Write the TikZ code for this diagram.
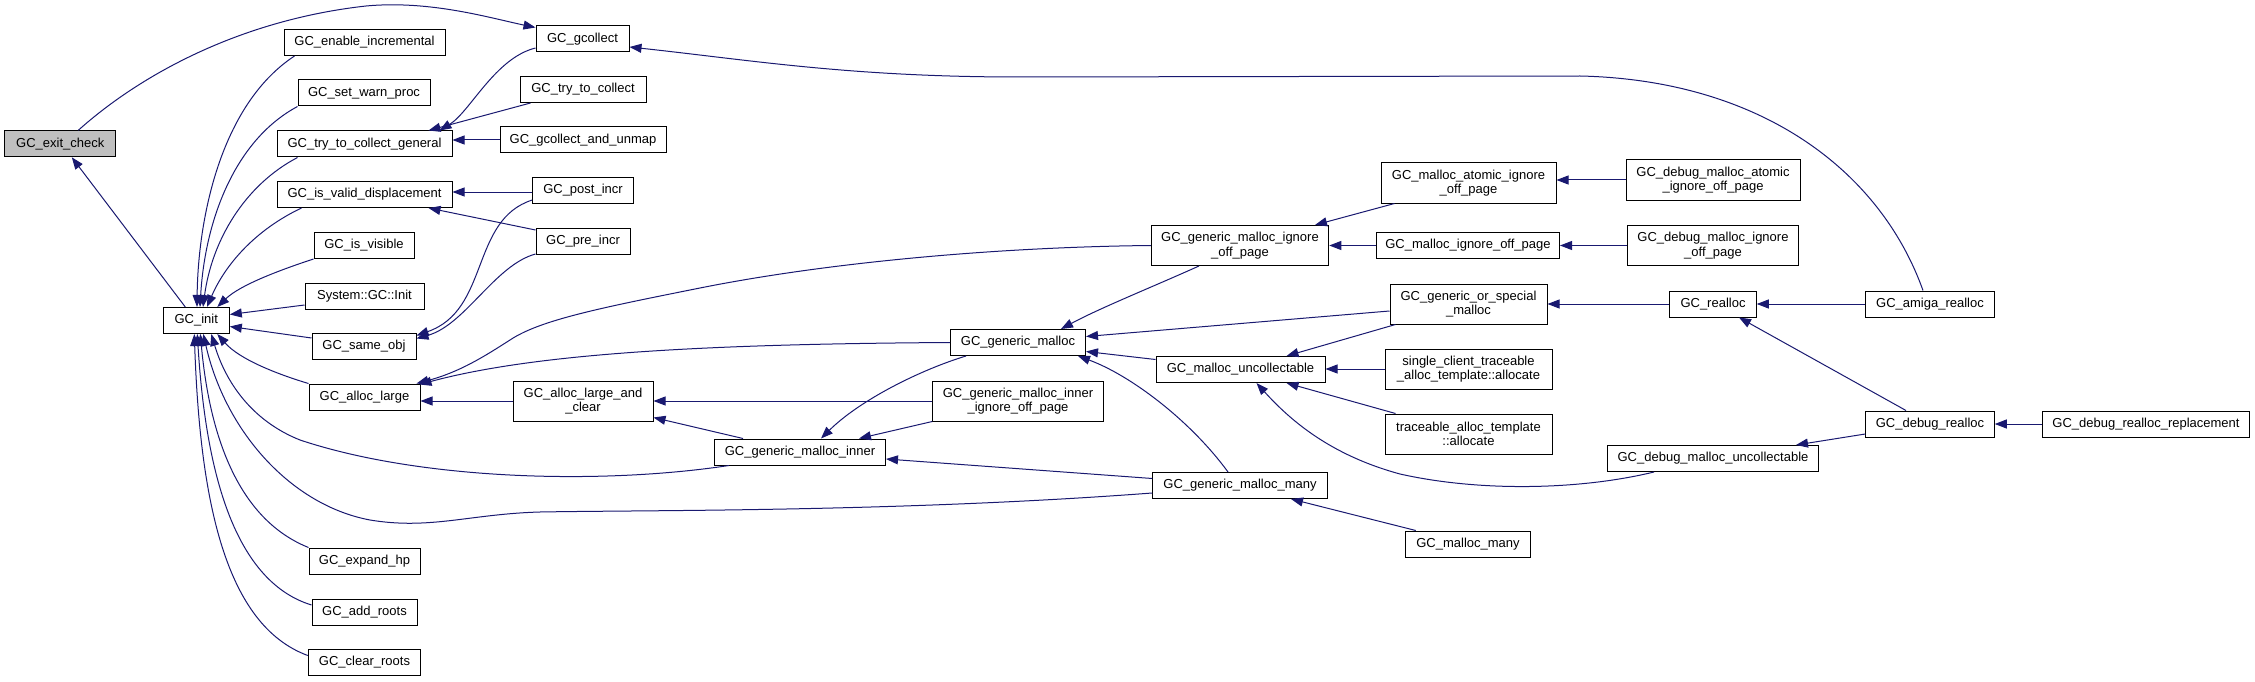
\documentclass[tikz,border=0pt]{standalone}
\usepackage{fontspec}
\setmainfont{Liberation Sans}
\usetikzlibrary{arrows.meta,calc}
\definecolor{edgec}{HTML}{191970}
\definecolor{greyfill}{HTML}{BFBFBF}
\begin{document}
\begin{tikzpicture}[x=1pt,y=-1pt,
  box/.style={draw=black, line width=1pt, fill=white, inner sep=0pt, align=center,
    minimum height=26pt, font=\fontsize{13}{14.5}\selectfont},
  tall/.style={minimum height=40pt},
  cg/.style={draw=edgec, line width=1pt, -{Triangle[length=12pt,width=9pt]}}]
\useasboundingbox (0,0) rectangle (2255,682);
% column 0
\node[box,fill=greyfill,minimum width=111pt] (exit) at (60.3,143.8) {GC\_exit\_check};
% column 1
\node[box,minimum width=66pt] (init) at (196.3,320.5) {GC\_init};
% column 2
\node[box,minimum width=161pt] (enable) at (364.5,42.5) {GC\_enable\_incremental};
\node[box,minimum width=132pt] (warn) at (364,93) {GC\_set\_warn\_proc};
\node[box,minimum width=175pt] (tcg) at (364.5,144) {GC\_try\_to\_collect\_general};
\node[box,minimum width=175pt] (ivd) at (364.5,194.5) {GC\_is\_valid\_displacement};
\node[box,minimum width=100pt] (vis) at (364,245.5) {GC\_is\_visible};
\node[box,minimum width=119pt] (sysinit) at (364.5,296) {System::GC::Init};
\node[box,minimum width=104pt] (same) at (364,346.5) {GC\_same\_obj};
\node[box,minimum width=111pt] (alarge) at (364.5,397) {GC\_alloc\_large};
\node[box,minimum width=111pt] (expand) at (364.5,561) {GC\_expand\_hp};
\node[box,minimum width=105pt] (addroots) at (364.5,612) {GC\_add\_roots};
\node[box,minimum width=112.5pt] (clearroots) at (364.5,662.5) {GC\_clear\_roots};
% column 3
\node[box,minimum width=93pt] (gcollect) at (582.5,39) {GC\_gcollect};
\node[box,minimum width=126pt] (ttc) at (583,89.5) {GC\_try\_to\_collect};
\node[box,minimum width=166pt] (gcu) at (583,140) {GC\_gcollect\_and\_unmap};
\node[box,minimum width=100.5pt] (post) at (583,190.5) {GC\_post\_incr};
\node[box,minimum width=94pt] (pre) at (583,241.5) {GC\_pre\_incr};
\node[box,tall,minimum width=140pt] (alc) at (583,401) {GC\_alloc\_large\_and\\\_clear};
% column 4
\node[box,minimum width=171pt] (gmi) at (800,452) {GC\_generic\_malloc\_inner};
% column 5
\node[box,minimum width=135pt] (gm) at (1018,342.5) {GC\_generic\_malloc};
\node[box,tall,minimum width=170.5pt] (gmiiop) at (1018,401) {GC\_generic\_malloc\_inner\\\_ignore\_off\_page};
% column 6
\node[box,tall,minimum width=177.5pt] (gmiop) at (1240,245.5) {GC\_generic\_malloc\_ignore\\\_off\_page};
\node[box,minimum width=169pt] (mu) at (1240.5,369.5) {GC\_malloc\_uncollectable};
\node[box,minimum width=174.5pt] (gmm) at (1240,485.5) {GC\_generic\_malloc\_many};
% column 7
\node[box,tall,minimum width=175pt] (maiop) at (1468.5,183) {GC\_malloc\_atomic\_ignore\\\_off\_page};
\node[box,minimum width=183pt] (miop) at (1468,245.5) {GC\_malloc\_ignore\_off\_page};
\node[box,tall,minimum width=157pt] (gosm) at (1468.5,304) {GC\_generic\_or\_special\\\_malloc};
\node[box,tall,minimum width=167pt] (sct) at (1468.5,369) {single\_client\_traceable\\\_alloc\_template::allocate};
\node[box,tall,minimum width=167pt] (tat) at (1468.5,434) {traceable\_alloc\_template\\::allocate};
\node[box,minimum width=125.5pt] (mm) at (1468,544) {GC\_malloc\_many};
% column 8
\node[box,tall,minimum width=174pt] (dmaiop) at (1713,180) {GC\_debug\_malloc\_atomic\\\_ignore\_off\_page};
\node[box,tall,minimum width=171pt] (dmiop) at (1713,245.5) {GC\_debug\_malloc\_ignore\\\_off\_page};
\node[box,minimum width=86.5pt] (realloc) at (1713,304) {GC\_realloc};
\node[box,minimum width=211pt] (dmu) at (1713,458.5) {GC\_debug\_malloc\_uncollectable};
% column 9
\node[box,minimum width=128.5pt] (amiga) at (1930,304) {GC\_amiga\_realloc};
\node[box,minimum width=128.5pt] (drealloc) at (1930,424) {GC\_debug\_realloc};
% column 10
\node[box,minimum width=207pt] (drr) at (2146,424) {GC\_debug\_realloc\_replacement};

% ---- edges ----
\draw[cg] ([xshift=-11pt]init.north) -- ([xshift=11.5pt]exit.south);
\draw[cg] ([xshift=18pt]exit.north) .. controls (140,75) and (240,20) .. (366,6)
  .. controls (430,0) and (490,18) .. ([yshift=-2pt]gcollect.north west);
\draw[cg] ([xshift=11pt]enable.south west) .. controls (220,105) and (198,220) .. ([xshift=0.7pt]init.north);
\draw[cg] (warn.south west) .. controls (235,140) and (205,220) .. ([xshift=3.7pt]init.north);
\draw[cg] ([xshift=21pt]tcg.south west) .. controls (245,185) and (212,240) .. ([xshift=6.7pt]init.north);
\draw[cg] ([xshift=25pt]ivd.south west) .. controls (255,230) and (225,265) .. ([xshift=10.7pt]init.north);
\draw[cg] (vis.south west) .. controls (280,270) and (240,285) .. ([xshift=21pt]init.north);
\draw[cg] ([yshift=-9pt]sysinit.west) -- ([yshift=6pt]init.east);
\draw[cg] ([yshift=8.5pt]same.west) -- ([yshift=-6pt]init.east);
\draw[cg] (alarge.north west) .. controls (280,375) and (240,360) .. ([xshift=21pt]init.south);
\draw[cg] ([xshift=15pt]gmi.south west) .. controls (600,485) and (420,480) .. (300,440)
  .. controls (250,420) and (225,380) .. ([xshift=15pt]init.south);
\draw[cg] ([yshift=-7.5pt]gmm.west) .. controls (900,512) and (650,510) .. (540,512)
  .. controls (470,514) and (430,530) .. (370,520)
  .. controls (290,505) and (225,430) .. ([xshift=7pt]init.south);
\draw[cg] (expand.north west) .. controls (240,520) and (210,440) .. ([xshift=4pt]init.south);
\draw[cg] ([yshift=7pt]addroots.west) .. controls (230,580) and (205,460) .. ([xshift=1pt]init.south);
\draw[cg] ([yshift=7pt]clearroots.west) .. controls (225,625) and (200,500) .. ([xshift=-2pt]init.south);

\draw[cg] ([yshift=-9pt]gcollect.west) .. controls (495,58) and (470,112) .. ([xshift=75pt]tcg.north);
\draw[cg] ([xshift=11pt]ttc.south west) -- ([xshift=64pt]tcg.north);
\draw[cg] (gcu.west) -- (gcu.west -| tcg.east);
\draw[cg] ([xshift=-7pt]amiga.north) .. controls (1880,170) and (1760,80) .. (1580,76)
  -- (1019,77) .. controls (850,77) and (750,60) .. ([yshift=-8pt]gcollect.east);
\draw[cg] ([yshift=-1.5pt]post.west) -- ([yshift=-1.5pt]post.west -| ivd.east);
\draw[cg] ([yshift=-2pt]pre.north west) -- ([xshift=64pt]ivd.south);
\draw[cg] ([yshift=4pt]post.south west) .. controls (470,220) and (490,310) .. ([yshift=11pt]same.east);
\draw[cg] ([yshift=1pt]pre.south west) .. controls (495,265) and (465,325) .. ([yshift=8pt]same.east);

\draw[cg] (gmiop.west) .. controls (1000,247) and (830,262) .. (700,288)
  .. controls (600,308) and (540,320) .. (510,340)
  .. controls (485,356) and (460,372) .. ([xshift=-4pt]alarge.north east);
\draw[cg] (gm.west) .. controls (720,344) and (540,352) .. ([xshift=-1pt,yshift=-1pt]alarge.north east);
\draw[cg] (alc.west) -- (alc.west -| alarge.east);
\draw[cg] (gmiiop.west) -- (gmiiop.west -| alc.east);
\draw[cg] ([xshift=29pt]gmi.north west) -- ([yshift=4pt]alc.south east);
\draw[cg] ([xshift=16pt]gm.south west) .. controls (920,370) and (860,400) .. ([xshift=21pt]gmi.north);
\draw[cg] (gmiiop.south west) -- ([xshift=59pt]gmi.north);
\draw[cg] ([yshift=7pt]gmm.west) -- ([yshift=-7pt]gmi.east);
\draw[cg] ([xshift=-12pt]gmm.north) .. controls (1190,420) and (1130,375) .. ([xshift=-8pt]gm.south east);
\draw[cg] ([xshift=-41pt]gmiop.south) .. controls (1150,288) and (1100,308) .. ([xshift=43pt]gm.north);
\draw[cg] ([yshift=-7pt]gosm.west) -- ([yshift=6pt]gm.east);
\draw[cg] ([yshift=10pt]mu.west) -- ([yshift=-9pt]gm.east);

\draw[cg] ([xshift=14pt]maiop.south west) -- ([xshift=75pt]gmiop.north);
\draw[cg] (miop.west) -- (miop.west -| gmiop.east);
\draw[cg] (dmaiop.west) -- (dmaiop.west -| maiop.east);
\draw[cg] (dmiop.west) -- (dmiop.west -| miop.east);
\draw[cg] (realloc.west) -- (realloc.west -| gosm.east);
\draw[cg] (amiga.west) -- (amiga.west -| realloc.east);
\draw[cg] ([xshift=-24pt]drealloc.north) -- ([xshift=26pt]realloc.south);
\draw[cg] (drr.west) -- (drr.west -| drealloc.east);
\draw[cg] ([yshift=-10pt]drealloc.west) -- ([xshift=-23pt]dmu.north east);
\draw[cg] ([xshift=6pt]gosm.south west) -- ([xshift=46pt]mu.north);
\draw[cg] (sct.west) -- (sct.west -| mu.east);
\draw[cg] ([xshift=11pt]tat.north west) -- ([xshift=46pt]mu.south);
\draw[cg] ([xshift=-59pt]dmu.south) .. controls (1580,490) and (1480,492) .. (1400,474)
  .. controls (1330,455) and (1290,420) .. ([xshift=16pt]mu.south);
\draw[cg] ([xshift=11pt]mm.north west) -- ([xshift=51pt]gmm.south);
\end{tikzpicture}
\end{document}
